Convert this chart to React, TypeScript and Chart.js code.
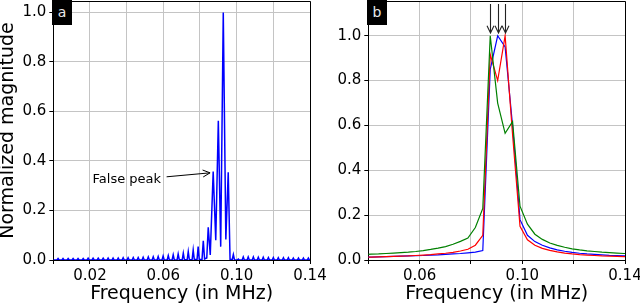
import React, { useEffect, useRef } from 'react';
import { Chart, registerables } from 'chart.js';

Chart.register(...registerables);
Chart.defaults.font.family = "'DejaVu Sans', sans-serif";

// ---------- Panel a data (frequency in MHz, normalized magnitude) ----------
const leftFreq = [
  0.0000,
  0.0020, 0.0026, 0.0032,
  0.0047, 0.0053, 0.0059,
  0.0075, 0.0081, 0.0087,
  0.0102, 0.0108, 0.0114,
  0.0129, 0.0135, 0.0141,
  0.0157, 0.0163, 0.0169,
  0.0184, 0.0190, 0.0196,
  0.0211, 0.0217, 0.0223,
  0.0239, 0.0245, 0.0251,
  0.0266, 0.0272, 0.0278,
  0.0293, 0.0299, 0.0305,
  0.0320, 0.0326, 0.0332,
  0.0348, 0.0354, 0.0360,
  0.0375, 0.0381, 0.0387,
  0.0402, 0.0408, 0.0414,
  0.0430, 0.0436, 0.0442,
  0.0457, 0.0463, 0.0469,
  0.0484, 0.0490, 0.0496,
  0.0512, 0.0518, 0.0524,
  0.0539, 0.0545, 0.0551,
  0.0566, 0.0572, 0.0578,
  0.0593, 0.0599, 0.0605,
  0.0621, 0.0627, 0.0633,
  0.0648, 0.0654, 0.0660,
  0.0675, 0.0681, 0.0687,
  0.0703, 0.0709, 0.0715,
  0.0730, 0.0736, 0.0742,
  0.0757, 0.0763, 0.0769,
  0.0784, 0.0790, 0.0796,
  0.0811, 0.0818, 0.0825,
  0.0837, 0.0845, 0.0856,
  0.0872, 0.0886, 0.0900, 0.0913, 0.0927, 0.0941, 0.0954,
  0.0964, 0.0976, 0.0982, 0.0988,
  0.1003, 0.1009, 0.1015,
  0.1030, 0.1036, 0.1042,
  0.1057, 0.1063, 0.1069,
  0.1085, 0.1091, 0.1097,
  0.1112, 0.1118, 0.1124,
  0.1139, 0.1145, 0.1151,
  0.1167, 0.1173, 0.1179,
  0.1194, 0.1200, 0.1206,
  0.1221, 0.1227, 0.1233,
  0.1249, 0.1255, 0.1261,
  0.1276, 0.1282, 0.1288,
  0.1303, 0.1309, 0.1315,
  0.1331, 0.1337, 0.1343,
  0.1358, 0.1364, 0.1370,
  0.1385, 0.1391, 0.1397,
  0.1400,
];
const leftMag = [
  0.000,
  0.000, 0.006, 0.000,
  0.000, 0.006, 0.000,
  0.000, 0.006, 0.000,
  0.000, 0.006, 0.000,
  0.000, 0.006, 0.000,
  0.000, 0.006, 0.000,
  0.000, 0.007, 0.000,
  0.000, 0.007, 0.000,
  0.000, 0.007, 0.000,
  0.000, 0.007, 0.000,
  0.000, 0.008, 0.000,
  0.000, 0.008, 0.000,
  0.000, 0.008, 0.000,
  0.000, 0.009, 0.000,
  0.000, 0.009, 0.000,
  0.000, 0.010, 0.000,
  0.000, 0.010, 0.000,
  0.000, 0.011, 0.000,
  0.000, 0.012, 0.000,
  0.000, 0.013, 0.000,
  0.000, 0.014, 0.000,
  0.000, 0.016, 0.000,
  0.000, 0.018, 0.000,
  0.000, 0.021, 0.000,
  0.000, 0.024, 0.001,
  0.001, 0.028, 0.001,
  0.001, 0.034, 0.001,
  0.001, 0.041, 0.002,
  0.002, 0.054, 0.002,
  0.002, 0.078, 0.004,
  0.008, 0.132, 0.020,
  0.357, 0.080, 0.562, 0.054, 1.000, 0.083, 0.354,
  0.002, 0.002, 0.022, 0.001,
  0.000, 0.004, 0.000,
  0.000, 0.012, 0.000,
  0.000, 0.012, 0.000,
  0.000, 0.012, 0.000,
  0.000, 0.011, 0.000,
  0.000, 0.011, 0.000,
  0.000, 0.010, 0.000,
  0.000, 0.010, 0.000,
  0.000, 0.009, 0.000,
  0.000, 0.009, 0.000,
  0.000, 0.009, 0.000,
  0.000, 0.008, 0.000,
  0.000, 0.008, 0.000,
  0.000, 0.008, 0.000,
  0.000, 0.008, 0.000,
  0.001,
];

// ---------- Panel b data ----------
const rightFreq = [
  0.0382, 0.0411, 0.0440, 0.0469, 0.0498, 0.0527, 0.0556, 0.0585, 0.0614, 0.0643,
  0.0672, 0.0701, 0.0730, 0.0759, 0.0788, 0.0817, 0.0846, 0.0875, 0.0904, 0.0933,
  0.0962, 0.0991, 0.1020, 0.1049, 0.1078, 0.1107, 0.1136, 0.1165, 0.1194, 0.1223,
  0.1252, 0.1281, 0.1310, 0.1339, 0.1368, 0.1397, 0.1426,
];
const blueMag = [
  0.012, 0.013, 0.014, 0.015, 0.016, 0.017, 0.018, 0.019, 0.020, 0.022,
  0.023, 0.025, 0.027, 0.029, 0.032, 0.035, 0.042, 0.850, 1.000, 0.950,
  0.600, 0.180, 0.110, 0.082, 0.066, 0.054, 0.045, 0.039, 0.034, 0.030,
  0.027, 0.025, 0.023, 0.021, 0.020, 0.019, 0.018,
];
const redMag = [
  0.012, 0.013, 0.014, 0.015, 0.016, 0.017, 0.018, 0.020, 0.022, 0.024,
  0.027, 0.030, 0.034, 0.040, 0.048, 0.066, 0.110, 0.917, 0.800, 1.000,
  0.560, 0.150, 0.090, 0.066, 0.052, 0.043, 0.036, 0.031, 0.027, 0.024,
  0.022, 0.020, 0.018, 0.017, 0.016, 0.015, 0.014,
];
const greenMag = [
  0.024, 0.026, 0.027, 0.029, 0.031, 0.033, 0.035, 0.038, 0.042, 0.047,
  0.053, 0.060, 0.070, 0.083, 0.098, 0.145, 0.230, 1.000, 0.700, 0.565,
  0.617, 0.240, 0.160, 0.115, 0.092, 0.076, 0.065, 0.057, 0.050, 0.045,
  0.041, 0.038, 0.035, 0.033, 0.031, 0.029, 0.028,
];

// ---------- Axes / annotations ----------
const leftXGrid = [0, 0.02, 0.04, 0.06, 0.08, 0.1, 0.12, 0.14];
const leftXLabels = [0.02, 0.06, 0.1, 0.14];
const rightXGrid = [0.04, 0.06, 0.08, 0.1, 0.12, 0.14];
const rightXLabels = [0.06, 0.1, 0.14];
const yTicks = [0, 0.2, 0.4, 0.6, 0.8, 1.0];
const falsePeakText = 'False peak';
const falsePeakTextPos = [0.0214, 0.326];
const falsePeakArrowFrom = [0.0618, 0.336];
const falsePeakArrowTo = [0.0855, 0.352];
const arrowFreqs = [0.0875, 0.0904, 0.0933];
const arrowTop = 1.142;
const arrowTip = 1.012;

const FONT = "'DejaVu Sans', sans-serif";

function alignPx(p: number) {
  return Math.round(p - 0.5) + 0.5;
}

function xAxis(min: number, max: number, grid: number[], labels: number[]) {
  return {
    type: 'linear',
    min,
    max,
    afterBuildTicks: (s: any) => {
      s.ticks = grid.map((v) => ({ value: v }));
    },
    afterFit: (s: any) => {
      s.height = 45;
      s.paddingLeft = 0;
      s.paddingRight = 0;
    },
    ticks: {
      autoSkip: false,
      maxRotation: 0,
      minRotation: 0,
      padding: 3,
      color: '#000',
      font: { size: 15 },
      callback: (v: any) =>
        labels.some((l) => Math.abs(l - Number(v)) < 1e-9) ? Number(v).toFixed(2) : '',
    },
    grid: { color: '#c4c4c4', lineWidth: 1, tickColor: '#000', tickLength: 4, drawTicks: true },
    border: { color: '#000', width: 1 },
    title: { display: true, text: 'Frequency (in MHz)', color: '#000', font: { size: 19 }, padding: 0 },
  };
}

function yAxis(max: number, width: number, title: string | null) {
  return {
    type: 'linear',
    min: 0,
    max,
    afterBuildTicks: (s: any) => {
      s.ticks = yTicks.map((v) => ({ value: v }));
    },
    afterFit: (s: any) => {
      s.width = width;
      s.paddingTop = 0;
      s.paddingBottom = 0;
    },
    ticks: {
      padding: 3,
      color: '#000',
      font: { size: 15 },
      callback: (v: any) => Number(v).toFixed(1),
    },
    grid: { color: '#c4c4c4', lineWidth: 1, tickColor: '#000', tickLength: 4, drawTicks: true },
    border: { color: '#000', width: 1 },
    title: title
      ? { display: true, text: title, color: '#000', font: { size: 19, lineHeight: 0.85 }, padding: 0 }
      : { display: false },
  };
}

const framePlugin = {
  id: 'frame',
  afterDraw(chart: any) {
    const { ctx, chartArea: a } = chart;
    ctx.save();
    ctx.strokeStyle = '#000';
    ctx.lineWidth = 1;
    ctx.beginPath();
    const t = alignPx(a.top);
    const r = alignPx(a.right);
    ctx.moveTo(a.left, t);
    ctx.lineTo(r, t);
    ctx.lineTo(r, a.bottom);
    ctx.stroke();
    ctx.restore();
  },
};

function drawArrow(ctx: CanvasRenderingContext2D, x1: number, y1: number, x2: number, y2: number) {
  const ang = Math.atan2(y2 - y1, x2 - x1);
  const hl = 8;
  const spread = 0.45;
  ctx.beginPath();
  ctx.moveTo(x1, y1);
  ctx.lineTo(x2, y2);
  ctx.moveTo(x2 - hl * Math.cos(ang - spread), y2 - hl * Math.sin(ang - spread));
  ctx.lineTo(x2, y2);
  ctx.lineTo(x2 - hl * Math.cos(ang + spread), y2 - hl * Math.sin(ang + spread));
  ctx.stroke();
}

const leftAnnot = {
  id: 'leftAnnot',
  afterDatasetsDraw(chart: any) {
    const { ctx, scales } = chart;
    const sx = scales.x;
    const sy = scales.y;
    ctx.save();
    ctx.fillStyle = '#000';
    ctx.font = `13px ${FONT}`;
    ctx.textAlign = 'left';
    ctx.textBaseline = 'middle';
    ctx.fillText(falsePeakText, sx.getPixelForValue(falsePeakTextPos[0]), sy.getPixelForValue(falsePeakTextPos[1]));
    ctx.strokeStyle = '#000';
    ctx.lineWidth = 1;
    drawArrow(
      ctx,
      sx.getPixelForValue(falsePeakArrowFrom[0]),
      sy.getPixelForValue(falsePeakArrowFrom[1]),
      sx.getPixelForValue(falsePeakArrowTo[0]),
      sy.getPixelForValue(falsePeakArrowTo[1])
    );
    ctx.restore();
  },
};

const rightAnnot = {
  id: 'rightAnnot',
  afterDatasetsDraw(chart: any) {
    const { ctx, scales } = chart;
    const sx = scales.x;
    const sy = scales.y;
    ctx.save();
    ctx.strokeStyle = '#222';
    ctx.lineWidth = 1.1;
    arrowFreqs.forEach((f) => {
      const x = Math.round(sx.getPixelForValue(f)) + 0.5;
      drawArrow(ctx, x, sy.getPixelForValue(arrowTop), x, sy.getPixelForValue(arrowTip));
    });
    ctx.restore();
  },
};

export default function App() {
  const leftRef = useRef<HTMLCanvasElement>(null);
  const rightRef = useRef<HTMLCanvasElement>(null);

  useEffect(() => {
    const left = new Chart(leftRef.current as HTMLCanvasElement, {
      type: 'line',
      data: {
        datasets: [
          {
            data: leftFreq.map((f, i) => ({ x: f, y: leftMag[i] })),
            borderColor: '#0000ff',
            borderWidth: 1.5,
            pointRadius: 0,
            tension: 0,
            fill: false,
          },
        ],
      },
      options: {
        animation: false,
        responsive: false,
        parsing: false as any,
        layout: { padding: { left: 0, right: 30, top: 1, bottom: 0 } },
        plugins: { legend: { display: false }, tooltip: { enabled: false } },
        scales: {
          x: xAxis(0, 0.14, leftXGrid, leftXLabels) as any,
          y: yAxis(1.046, 53.3, 'Normalized magnitude') as any,
        },
      },
      plugins: [framePlugin, leftAnnot],
    } as any);

    const mk = (mag: number[], color: string) => ({
      data: rightFreq.map((f, i) => ({ x: f, y: mag[i] })),
      borderColor: color,
      borderWidth: 1.2,
      pointRadius: 0,
      tension: 0,
      fill: false,
    });

    const right = new Chart(rightRef.current as HTMLCanvasElement, {
      type: 'line',
      data: {
        datasets: [mk(greenMag, '#008000'), mk(redMag, '#ff0000'), mk(blueMag, '#0000ff')],
      },
      options: {
        animation: false,
        responsive: false,
        parsing: false as any,
        layout: { padding: { left: 0, right: 15, top: 1, bottom: 0 } },
        plugins: { legend: { display: false }, tooltip: { enabled: false } },
        scales: {
          x: xAxis(0.04, 0.14, rightXGrid, rightXLabels) as any,
          y: yAxis(1.155, 48.3, null) as any,
        },
      },
      plugins: [framePlugin, rightAnnot],
    } as any);

    return () => {
      left.destroy();
      right.destroy();
    };
  }, []);

  const badge = (left: number, text: string) => (
    <div
      style={{
        position: 'absolute',
        left,
        top: 0,
        width: 20,
        height: 25,
        background: '#000',
        color: '#e8e8e8',
        fontFamily: FONT,
        fontSize: 14,
        lineHeight: '25px',
        textAlign: 'center',
        zIndex: 5,
      }}
    >
      {text}
    </div>
  );

  return (
    <div style={{ position: 'fixed', left: 0, top: 0, width: 640, height: 305, background: '#fff', overflow: 'hidden' }}>
      <canvas ref={leftRef} width={340} height={305} style={{ position: 'absolute', left: 0, top: 0 }} />
      <canvas ref={rightRef} width={320} height={305} style={{ position: 'absolute', left: 320, top: 0, zIndex: 2 }} />
      {badge(52, 'a')}
      {badge(367, 'b')}
    </div>
  );
}
